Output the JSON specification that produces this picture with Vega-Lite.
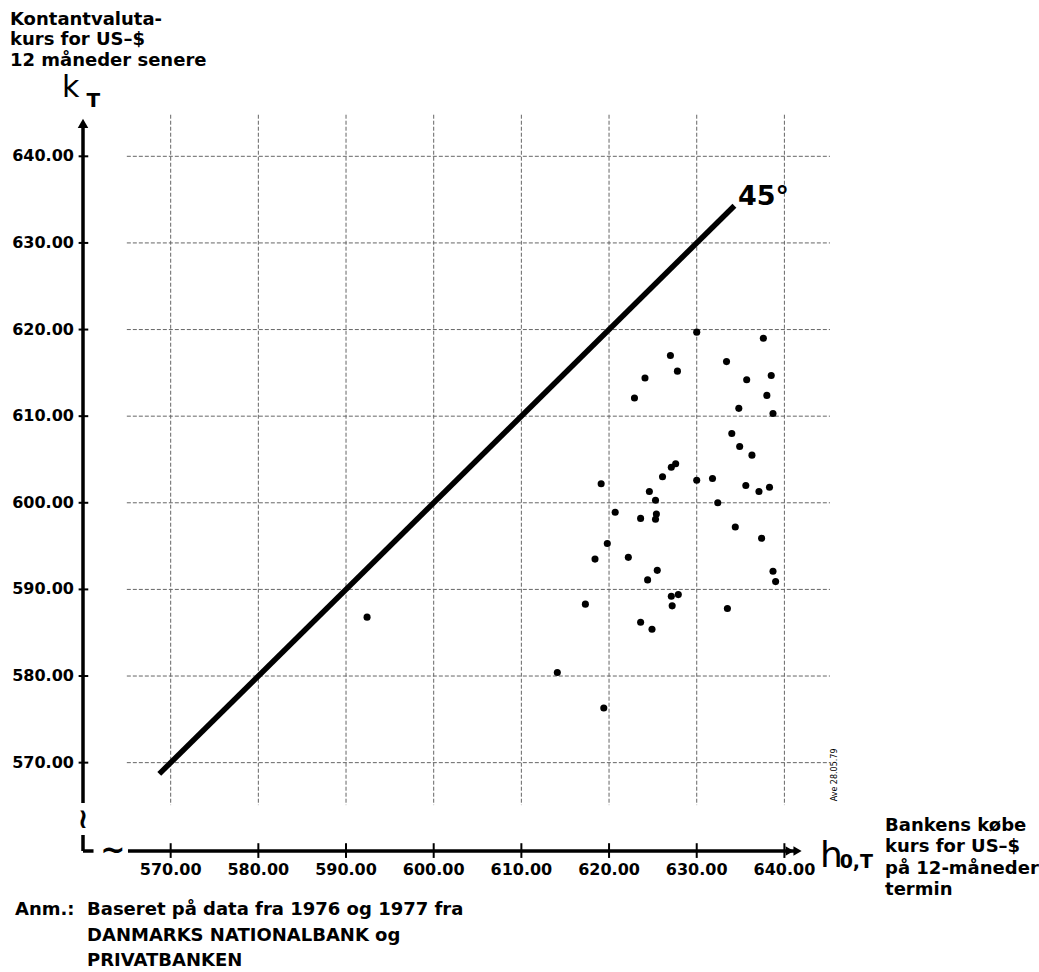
{
  "$schema": "https://vega.github.io/schema/vega-lite/v6.json",
  "width": 754,
  "height": 738,
  "autosize": "none",
  "padding": {"left": 83, "top": 113, "right": 202, "bottom": 121},
  "background": "white",
  "config": {"view": {"stroke": null}, "font": "DejaVu Sans"},
  "datasets": {
    "points": [
      {"h": 630.0, "k": 619.7}, {"h": 637.6, "k": 619.0}, {"h": 627.0, "k": 617.0}, {"h": 633.4, "k": 616.3},
      {"h": 627.8, "k": 615.2}, {"h": 624.1, "k": 614.4}, {"h": 635.7, "k": 614.2}, {"h": 638.5, "k": 614.7},
      {"h": 622.9, "k": 612.1}, {"h": 638.0, "k": 612.4}, {"h": 634.8, "k": 610.9}, {"h": 638.7, "k": 610.3},
      {"h": 634.0, "k": 608.0}, {"h": 634.9, "k": 606.5}, {"h": 636.3, "k": 605.5}, {"h": 627.1, "k": 604.1},
      {"h": 627.6, "k": 604.5}, {"h": 626.1, "k": 603.0}, {"h": 619.1, "k": 602.2}, {"h": 630.0, "k": 602.6},
      {"h": 631.8, "k": 602.8}, {"h": 635.6, "k": 602.0}, {"h": 637.1, "k": 601.3}, {"h": 638.3, "k": 601.8},
      {"h": 624.6, "k": 601.3}, {"h": 625.3, "k": 600.3}, {"h": 632.4, "k": 600.0}, {"h": 620.7, "k": 598.9},
      {"h": 623.6, "k": 598.2}, {"h": 625.4, "k": 598.7}, {"h": 625.3, "k": 598.1}, {"h": 634.4, "k": 597.2},
      {"h": 637.4, "k": 595.9}, {"h": 619.8, "k": 595.3}, {"h": 618.4, "k": 593.5}, {"h": 622.2, "k": 593.7},
      {"h": 625.5, "k": 592.2}, {"h": 624.4, "k": 591.1}, {"h": 638.7, "k": 592.1}, {"h": 639.0, "k": 590.9},
      {"h": 627.1, "k": 589.2}, {"h": 627.9, "k": 589.4}, {"h": 627.2, "k": 588.1}, {"h": 617.3, "k": 588.3},
      {"h": 633.5, "k": 587.8}, {"h": 623.6, "k": 586.2}, {"h": 624.9, "k": 585.4}, {"h": 614.1, "k": 580.4},
      {"h": 619.4, "k": 576.3}, {"h": 592.4, "k": 586.8}
    ],
    "ticks": [{"v": 570}, {"v": 580}, {"v": 590}, {"v": 600}, {"v": 610}, {"v": 620}, {"v": 630}, {"v": 640}]
  },
  "layer": [
    {
      "data": {"name": "ticks"},
      "mark": {"type": "rule", "color": "#666666", "strokeWidth": 1, "strokeDash": [4, 2]},
      "encoding": {
        "x": {"field": "v", "type": "quantitative", "scale": {"domain": [560, 646], "nice": false, "zero": false}, "axis": null},
        "y": {"datum": 644.8, "type": "quantitative", "scale": {"domain": [559.8, 645], "nice": false, "zero": false}, "axis": null},
        "y2": {"datum": 565.1}
      }
    },
    {
      "data": {"name": "ticks"},
      "mark": {"type": "rule", "color": "#666666", "strokeWidth": 1, "strokeDash": [4, 2]},
      "encoding": {
        "y": {"field": "v", "type": "quantitative", "axis": null},
        "x": {"datum": 565.0, "type": "quantitative", "axis": null},
        "x2": {"datum": 645.2}
      }
    },
    {
      "data": {"values": [{}]},
      "mark": {"type": "rule", "color": "black", "strokeWidth": 5.5, "strokeCap": "butt"},
      "encoding": {
        "x": {"datum": 568.7, "type": "quantitative", "axis": null},
        "y": {"datum": 568.7, "type": "quantitative", "axis": null},
        "x2": {"datum": 634.3},
        "y2": {"datum": 634.3}
      }
    },
    {
      "data": {"name": "points"},
      "mark": {"type": "point", "filled": true, "shape": "circle", "color": "black", "size": 50, "opacity": 1},
      "encoding": {
        "x": {"field": "h", "type": "quantitative", "axis": null},
        "y": {"field": "k", "type": "quantitative", "axis": null}
      }
    },
    {
      "data": {"values": [{}]},
      "mark": {"type": "rule", "color": "black", "strokeWidth": 3.5},
      "encoding": {
        "x": {"datum": 560, "type": "quantitative", "axis": null},
        "y": {"datum": 565.35, "type": "quantitative", "axis": null},
        "y2": {"datum": 643.5}
      }
    },
    {
      "data": {"values": [{}]},
      "mark": {"type": "point", "filled": true, "shape": "triangle-up", "color": "black", "size": 110, "opacity": 1},
      "encoding": {
        "x": {"datum": 560, "type": "quantitative", "axis": null},
        "y": {"datum": 643.8, "type": "quantitative", "axis": null}
      }
    },
    {
      "data": {"name": "ticks"},
      "mark": {"type": "rule", "color": "black", "strokeWidth": 2},
      "encoding": {
        "y": {"field": "v", "type": "quantitative", "axis": null},
        "x": {"datum": 559.5, "type": "quantitative", "axis": null},
        "x2": {"datum": 560.6}
      }
    },
    {
      "data": {"values": [{}]},
      "mark": {"type": "rule", "color": "black", "strokeWidth": 3.5},
      "encoding": {
        "y": {"datum": 559.8, "type": "quantitative", "axis": null},
        "x": {"datum": 565.13, "type": "quantitative", "axis": null},
        "x2": {"datum": 641.3}
      }
    },
    {
      "data": {"name": "ticks"},
      "mark": {"type": "rule", "color": "black", "strokeWidth": 2},
      "encoding": {
        "x": {"field": "v", "type": "quantitative", "axis": null},
        "y": {"datum": 560.7, "type": "quantitative", "axis": null},
        "y2": {"datum": 559.0}
      }
    },
    {
      "data": {"values": [{}]},
      "mark": {"type": "point", "filled": true, "shape": "triangle-right", "color": "black", "size": 90, "opacity": 1},
      "encoding": {
        "x": {"datum": 640.6, "type": "quantitative", "axis": null},
        "y": {"datum": 559.8, "type": "quantitative", "axis": null}
      }
    },
    {
      "data": {"values": [{}]},
      "mark": {"type": "point", "filled": true, "shape": "triangle-right", "color": "black", "size": 90, "opacity": 1},
      "encoding": {
        "x": {"datum": 641.5, "type": "quantitative", "axis": null},
        "y": {"datum": 559.8, "type": "quantitative", "axis": null}
      }
    },
    {
      "data": {"values": [{}]},
      "mark": {"type": "rule", "color": "black", "strokeWidth": 3.5},
      "encoding": {
        "x": {"datum": 560, "type": "quantitative", "axis": null},
        "y": {"datum": 561.65, "type": "quantitative", "axis": null},
        "y2": {"datum": 559.8}
      }
    },
    {
      "data": {"values": [{}]},
      "mark": {"type": "rule", "color": "black", "strokeWidth": 3.5},
      "encoding": {
        "y": {"datum": 559.8, "type": "quantitative", "axis": null},
        "x": {"datum": 560, "type": "quantitative", "axis": null},
        "x2": {"datum": 561.2}
      }
    },
    {
      "data": {"values": [{}]},
      "mark": {"type": "text", "text": "~", "fontSize": 30, "fontWeight": "bold", "align": "center", "baseline": "middle", "font": "DejaVu Sans"},
      "encoding": {
        "x": {"datum": 563.4, "type": "quantitative", "axis": null},
        "y": {"datum": 559.8, "type": "quantitative", "axis": null}
      }
    },
    {
      "data": {"values": [{}]},
      "mark": {"type": "text", "text": "≀", "fontSize": 28, "fontWeight": "bold", "align": "center", "baseline": "middle", "font": "DejaVu Sans"},
      "encoding": {
        "x": {"datum": 560, "type": "quantitative", "axis": null},
        "y": {"datum": 563.38, "type": "quantitative", "axis": null}
      }
    },
    {
      "data": {"name": "ticks"},
      "mark": {"type": "text", "fontSize": 16, "fontWeight": "bold", "align": "right", "baseline": "middle", "font": "DejaVu Sans", "color": "black"},
      "encoding": {
        "y": {"field": "v", "type": "quantitative", "axis": null},
        "x": {"datum": 558.97, "type": "quantitative", "axis": null},
        "text": {"field": "v", "type": "quantitative", "format": ".2f"}
      }
    },
    {
      "data": {"name": "ticks"},
      "mark": {"type": "text", "fontSize": 16, "fontWeight": "bold", "align": "center", "baseline": "middle", "font": "DejaVu Sans", "color": "black"},
      "encoding": {
        "x": {"field": "v", "type": "quantitative", "axis": null},
        "y": {"datum": 557.6, "type": "quantitative", "axis": null},
        "text": {"field": "v", "type": "quantitative", "format": ".2f"}
      }
    },
    {
      "data": {"values": [{}]},
      "mark": {"type": "text", "text": "45°", "fontSize": 27, "fontWeight": "bold", "align": "left", "baseline": "middle", "font": "DejaVu Sans"},
      "encoding": {
        "x": {"datum": 634.7, "type": "quantitative", "axis": null},
        "y": {"datum": 635.35, "type": "quantitative", "axis": null}
      }
    },
    {
      "data": {"values": [{}]},
      "mark": {"type": "text", "text": ["Kontantvaluta-", "kurs for US–$", "12 måneder senere"], "lineHeight": 20.5, "fontSize": 18, "fontWeight": "bold", "align": "left", "baseline": "middle", "font": "DejaVu Sans"},
      "encoding": {
        "x": {"datum": 551.67, "type": "quantitative", "axis": null},
        "y": {"datum": 655.75, "type": "quantitative", "axis": null}
      }
    },
    {
      "data": {"values": [{}]},
      "mark": {"type": "text", "text": "k", "fontSize": 30, "align": "left", "baseline": "alphabetic", "font": "DejaVu Sans"},
      "encoding": {
        "x": {"datum": 557.6, "type": "quantitative", "axis": null},
        "y": {"datum": 646.9, "type": "quantitative", "axis": null}
      }
    },
    {
      "data": {"values": [{}]},
      "mark": {"type": "text", "text": "T", "fontSize": 20, "fontWeight": "bold", "align": "left", "baseline": "alphabetic", "font": "DejaVu Sans"},
      "encoding": {
        "x": {"datum": 560.4, "type": "quantitative", "axis": null},
        "y": {"datum": 645.74, "type": "quantitative", "axis": null}
      }
    },
    {
      "data": {"values": [{}]},
      "mark": {"type": "text", "text": "h", "fontSize": 36, "align": "left", "baseline": "alphabetic", "font": "DejaVu Sans"},
      "encoding": {
        "x": {"datum": 644.07, "type": "quantitative", "axis": null},
        "y": {"datum": 557.95, "type": "quantitative", "axis": null}
      }
    },
    {
      "data": {"values": [{}]},
      "mark": {"type": "text", "text": "0,T", "fontSize": 19, "fontWeight": "bold", "align": "left", "baseline": "alphabetic", "font": "DejaVu Sans"},
      "encoding": {
        "x": {"datum": 646.3, "type": "quantitative", "axis": null},
        "y": {"datum": 557.84, "type": "quantitative", "axis": null}
      }
    },
    {
      "data": {"values": [{}]},
      "mark": {"type": "text", "text": ["Bankens købe", "kurs for US–$", "på 12-måneder", "termin"], "lineHeight": 21.5, "fontSize": 18, "fontWeight": "bold", "align": "left", "baseline": "middle", "font": "DejaVu Sans"},
      "encoding": {
        "x": {"datum": 651.48, "type": "quantitative", "axis": null},
        "y": {"datum": 562.69, "type": "quantitative", "axis": null}
      }
    },
    {
      "data": {"values": [{}]},
      "mark": {"type": "text", "text": "Anm.:", "fontSize": 18, "fontWeight": "bold", "align": "left", "baseline": "middle", "font": "DejaVu Sans"},
      "encoding": {
        "x": {"datum": 552.24, "type": "quantitative", "axis": null},
        "y": {"datum": 552.98, "type": "quantitative", "axis": null}
      }
    },
    {
      "data": {"values": [{}]},
      "mark": {"type": "text", "text": ["Baseret på data fra 1976 og 1977 fra", "DANMARKS NATIONALBANK og", "PRIVATBANKEN"], "lineHeight": 25.5, "fontSize": 18, "fontWeight": "bold", "align": "left", "baseline": "middle", "font": "DejaVu Sans"},
      "encoding": {
        "x": {"datum": 560.46, "type": "quantitative", "axis": null},
        "y": {"datum": 552.98, "type": "quantitative", "axis": null}
      }
    },
    {
      "data": {"values": [{}]},
      "mark": {"type": "text", "text": "Ave 28.05.79", "fontSize": 8, "angle": 270, "align": "center", "baseline": "middle", "font": "DejaVu Sans"},
      "encoding": {
        "x": {"datum": 645.78, "type": "quantitative", "axis": null},
        "y": {"datum": 568.58, "type": "quantitative", "axis": null}
      }
    }
  ]
}
